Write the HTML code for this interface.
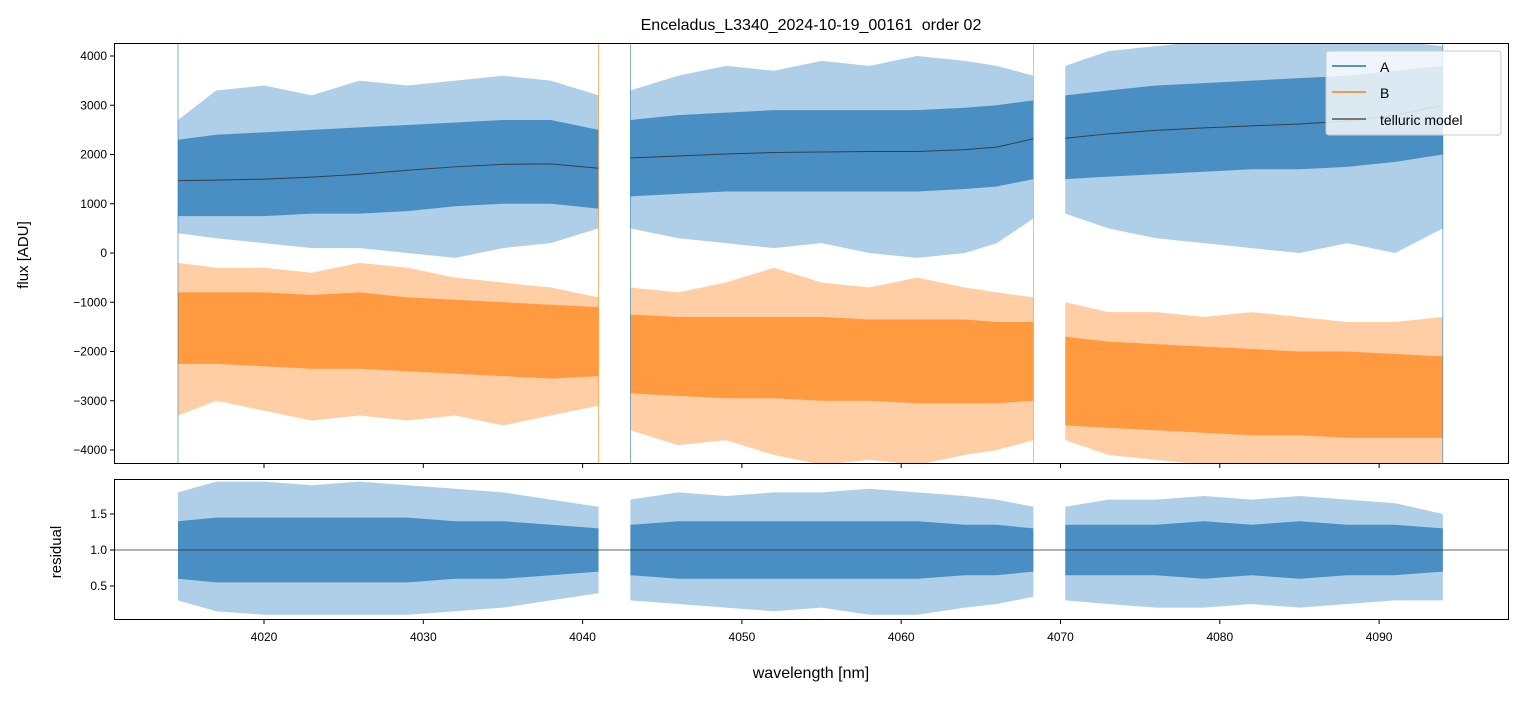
<!DOCTYPE html>
<html><head><meta charset="utf-8"><style>
body{margin:0;background:#fff;}
svg text{font-family:"Liberation Sans","DejaVu Sans",sans-serif;}
</style></head><body>
<svg id="c" width="1523" height="696" xmlns="http://www.w3.org/2000/svg"></svg>
<script>
// ---- data ----
const segWl = [
 [4014.6,4017,4020,4023,4026,4029,4032,4035,4038,4041],
 [4043,4046,4049,4052,4055,4058,4061,4064,4066,4068.3],
 [4070.3,4073,4076,4079,4082,4085,4088,4091,4094]
];
const modelVals = [
 [1470,1480,1500,1540,1600,1680,1750,1800,1810,1720],
 [1930,1970,2010,2040,2050,2060,2060,2100,2150,2320],
 [2330,2420,2490,2540,2580,2620,2680,2800,3000]
];
const aOutHi = [[2700,3300,3400,3200,3500,3400,3500,3600,3500,3200],[3300,3600,3800,3700,3900,3800,4000,3900,3800,3600],[3800,4100,4200,4300,4300,4300,4300,4300,4200]];
const aOutLo = [[400,300,200,100,100,0,-100,100,200,500],[500,300,200,100,200,0,-100,0,200,700],[800,500,300,200,100,0,200,0,500]];
const aCoreHi= [[2300,2400,2450,2500,2550,2600,2650,2700,2700,2500],[2700,2800,2850,2900,2900,2900,2900,2950,3000,3100],[3200,3300,3400,3450,3500,3550,3600,3700,3800]];
const aCoreLo= [[750,750,750,800,800,850,950,1000,1000,900],[1150,1200,1250,1250,1250,1250,1250,1300,1350,1500],[1500,1550,1600,1650,1700,1700,1750,1850,2000]];
const bOutHi = [[-200,-300,-300,-400,-200,-300,-500,-600,-700,-900],[-700,-800,-600,-300,-600,-700,-500,-700,-800,-900],[-1000,-1200,-1200,-1300,-1200,-1300,-1400,-1400,-1300]];
const bOutLo = [[-3300,-3000,-3200,-3400,-3300,-3400,-3300,-3500,-3300,-3100],[-3600,-3900,-3800,-4100,-4300,-4200,-4300,-4100,-4000,-3800],[-3800,-4100,-4200,-4300,-4300,-4300,-4300,-4300,-4300]];
const bCoreHi= [[-800,-800,-800,-850,-800,-900,-950,-1000,-1050,-1100],[-1250,-1300,-1300,-1300,-1300,-1350,-1350,-1350,-1400,-1400],[-1700,-1800,-1850,-1900,-1950,-2000,-2000,-2050,-2100]];
const bCoreLo= [[-2250,-2250,-2300,-2350,-2350,-2400,-2450,-2500,-2550,-2500],[-2850,-2900,-2950,-2950,-3000,-3000,-3050,-3050,-3050,-3000],[-3500,-3550,-3600,-3650,-3700,-3700,-3750,-3750,-3750]];
const rOutHi = [[1.8,1.95,1.95,1.9,1.95,1.9,1.85,1.8,1.7,1.6],[1.7,1.8,1.75,1.8,1.8,1.85,1.8,1.75,1.7,1.6],[1.6,1.7,1.7,1.75,1.7,1.75,1.7,1.65,1.5]];
const rOutLo = [[0.3,0.15,0.1,0.1,0.1,0.1,0.15,0.2,0.3,0.4],[0.3,0.25,0.2,0.15,0.2,0.1,0.1,0.2,0.25,0.35],[0.3,0.25,0.2,0.2,0.25,0.2,0.25,0.3,0.3]];
const rCoreHi= [[1.4,1.45,1.45,1.45,1.45,1.45,1.4,1.4,1.35,1.3],[1.35,1.4,1.4,1.4,1.4,1.4,1.4,1.35,1.35,1.3],[1.35,1.35,1.35,1.4,1.35,1.4,1.35,1.35,1.3]];
const rCoreLo= [[0.6,0.55,0.55,0.55,0.55,0.55,0.6,0.6,0.65,0.7],[0.65,0.6,0.6,0.6,0.6,0.6,0.6,0.65,0.65,0.7],[0.65,0.65,0.65,0.6,0.65,0.6,0.65,0.65,0.7]];
const edgeWl = [4014.6,4041.0,4043.0,4068.3,4094.0];
const xTicks = [4020,4030,4040,4050,4060,4070,4080,4090];
const yTicks = [-4000,-3000,-2000,-1000,0,1000,2000,3000,4000];
const rTicks = [0.5,1.0,1.5];

// ---- axes ----
const X0=114,X1=1509;
const xs = w => 264+(w-4020)*15.93;
const T0=43,T1=464, ys = v => 253 - v*0.04925;
const B0=479,B1=620, yr = v => 550 - (v-1)*72;
const NS="http://www.w3.org/2000/svg", svg=document.getElementById('c');
function el(tag, attrs, parent){const e=document.createElementNS(NS,tag);for(const k in attrs)e.setAttribute(k,attrs[k]);(parent||svg).appendChild(e);return e;}

const clipT=el('clipPath',{id:'ct'});el('rect',{x:X0,y:T0,width:X1-X0,height:T1-T0},clipT);
const clipB=el('clipPath',{id:'cb'});el('rect',{x:X0,y:B0,width:X1-X0,height:B1-B0},clipB);
const gT=el('g',{'clip-path':'url(#ct)'});


const gB=el('g',{'clip-path':'url(#cb)'});



function band(g,wl,hi,lo,ysf,color,op,name){
  let p=wl.map((w,i)=>xs(w)+','+ysf(hi[i])).join(' ')+' '+wl.slice().reverse().map((w,i)=>xs(w)+','+ysf(lo[wl.length-1-i])).join(' ');
  const e=el('polygon',{points:p,fill:color,'fill-opacity':op},g);
  
  
}
for(let s=0;s<segWl.length;s++){
  const w=segWl[s];
  band(gT,w,aOutHi[s],aOutLo[s],ys,'#a6c9e5',0.9,'series-a-envelope');
  band(gT,w,aCoreHi[s],aCoreLo[s],ys,'#4a8fc4',1,'series-a-core');
  band(gT,w,bOutHi[s],bOutLo[s],ys,'#ffc99a',0.9,'series-b-envelope');
  band(gT,w,bCoreHi[s],bCoreLo[s],ys,'#ff9a40',1,'series-b-core');
  band(gB,w,rOutHi[s],rOutLo[s],yr,'#a6c9e5',0.9,'residual-envelope');
  band(gB,w,rCoreHi[s],rCoreLo[s],yr,'#4a8fc4',1,'residual-core');
  const ml=el('polyline',{points:w.map((x,i)=>xs(x)+','+ys(modelVals[s][i])).join(' '),fill:'none',stroke:'#333','stroke-width':1,'stroke-opacity':0.85},gT);
  
  
}
edgeWl.forEach((w,i)=>{
  const a=el('line',{x1:xs(w),x2:xs(w),y1:ys(4300),y2:ys(-4300),stroke:i%2?'#ff7f0e':'#1f77b4','stroke-width':0.7,'stroke-opacity':0.8},gT);
  
  
});
const rl=el('line',{x1:X0,x2:X1,y1:yr(1),y2:yr(1),stroke:'#333','stroke-width':0.7},gB);



[[T0,T1,'flux-axes-frame'],[B0,B1,'residual-axes-frame']].forEach(f=>{
  const r=el('rect',{x:X0+0.5,y:f[0]+0.5,width:X1-X0-1,height:f[1]-f[0]-1,fill:'none',stroke:'#000','stroke-width':1});
  
  
});
xTicks.forEach(t=>{
  el('line',{x1:xs(t),x2:xs(t),y1:T1,y2:T1+4,stroke:'#000'});
  el('line',{x1:xs(t),x2:xs(t),y1:B1,y2:B1+4,stroke:'#000'});
  const tx=el('text',{x:xs(t),y:B1+21,'font-size':12,'text-anchor':'middle'});tx.textContent=t;
  
  
});
yTicks.forEach(t=>{
  el('line',{x1:X0-4,x2:X0,y1:ys(t),y2:ys(t),stroke:'#000'});
  const tx=el('text',{x:X0-7,y:ys(t)+4,'font-size':12,'text-anchor':'end'});tx.textContent=String(t).replace('-','\u2212');
  
  
});
rTicks.forEach(t=>{
  el('line',{x1:X0-4,x2:X0,y1:yr(t),y2:yr(t),stroke:'#000'});
  const tx=el('text',{x:X0-7,y:yr(t)+4,'font-size':12,'text-anchor':'end'});tx.textContent=t.toFixed(1);
  
  
});
</script>
<svg width="1523" height="696" style="position:absolute;left:0;top:0" xmlns="http://www.w3.org/2000/svg">
  <text x="811" y="30" font-size="16" text-anchor="middle" xml:space="preserve">Enceladus_L3340_2024-10-19_00161  order 02</text>
  <text x="28" y="255" font-size="15" text-anchor="middle" transform="rotate(-90 28 255)">flux [ADU]</text>
  <text x="61" y="552" font-size="15" text-anchor="middle" transform="rotate(-90 61 552)">residual</text>
  <text x="811" y="678" font-size="16" text-anchor="middle">wavelength [nm]</text>
  <g>
    <rect x="1326" y="51" width="175" height="84" rx="3" fill="#fff" fill-opacity="0.8" stroke="#ccc"/>
    <line x1="1332" y1="66" x2="1366" y2="66" stroke="#1f77b4" stroke-width="1.5"/>
    <text x="1380" y="72" font-size="14">A</text>
    <line x1="1332" y1="92" x2="1366" y2="92" stroke="#ff7f0e" stroke-width="1.5"/>
    <text x="1380" y="98" font-size="14">B</text>
    <line x1="1332" y1="119" x2="1366" y2="119" stroke="#555" stroke-width="1.5"/>
    <text x="1380" y="125" font-size="14">telluric model</text>
  </g>
</svg>
</body></html>
